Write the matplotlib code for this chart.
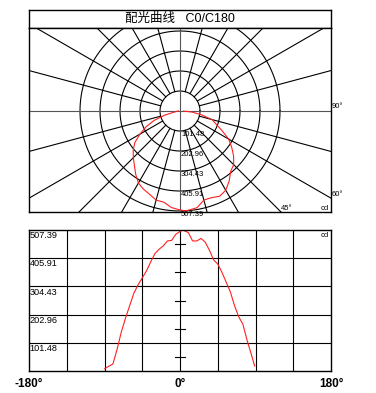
import numpy as np
import matplotlib.pyplot as plt

plt.rcParams['font.family'] = ['Liberation Sans', 'Noto Sans CJK SC', 'DejaVu Sans']

# Intensity distribution (C0/C180 plane)
angles = [-90, -85, -80, -75, -70, -65, -60, -55, -50, -45, -40, -35, -30, -25, -20,
          -15, -10, -5, 0, 3, 5, 10, 15, 20, 25, 30, 35, 40, 45, 50, 55, 60, 65, 70,
          75, 80, 85, 89]
values = [8, 17, 25, 78, 140, 190, 235, 280, 310, 335, 360, 392, 422, 438, 450,
          468, 470, 492, 502, 507, 505, 498, 468, 468, 477, 464, 435, 400, 385, 355,
          320, 285, 235, 195, 168, 110, 60, 18]
ring_values = [101.48, 202.96, 304.43, 405.91, 507.39]
ring_labels = ['101.48', '202.96', '304.43', '405.91', '507.39']
x_labels = ['-180°', '0°', '180°']
title = '配光曲线   C0/C180'

W, H = 376, 393
fig = plt.figure(figsize=(W / 100, H / 100), dpi=100)

def box(x0, y0, x1, y1):
    return [x0 / W, (H - y1) / H, (x1 - x0) / W, (y1 - y0) / H]

# title strip
axt = fig.add_axes(box(29, 10, 331, 28))
axt.set_xticks([])
axt.set_yticks([])
axt.text(0.5, 0.5, title, ha='center', va='center', fontsize=9, transform=axt.transAxes)

# polar-style diagram drawn on cartesian axes (1 px = s cd)
s = ring_values[-1] / 100.0
axp = fig.add_axes(box(29, 28, 331, 212))
axp.set_xlim(-151 * s, 151 * s)
axp.set_ylim(-101 * s, 83 * s)
axp.set_xticks([])
axp.set_yticks([])
t = np.linspace(0, 2 * np.pi, 400)
for r in ring_values:
    axp.plot(r * np.cos(t), r * np.sin(t), color='black', lw=0.8)
for a in range(15, 360, 15):
    if a % 90 == 0:
        continue
    th = np.radians(a)
    axp.plot([ring_values[0] * np.sin(th), 1000 * np.sin(th)],
             [-ring_values[0] * np.cos(th), -1000 * np.cos(th)], color='black', lw=0.8)
axp.axhline(0, color='#555555', lw=0.8)
axp.axvline(0, color='#555555', lw=0.8)
for r, lab in zip(ring_values, ring_labels):
    axp.text(1 * s, -r, lab, ha='left', va='top', fontsize=5.5)
th = np.radians(angles)
v = np.array(values)
axp.plot(v * np.sin(th), -v * np.cos(th), color='#ff2020', lw=0.8)
axp.text(152 * s, 4 * s, '90°', ha='left', va='center', fontsize=5.5, clip_on=False)
axp.text(152 * s, -84 * s, '60°', ha='left', va='center', fontsize=5.5, clip_on=False)
axp.text(101 * s, -97 * s, '45°', ha='left', va='center', fontsize=5.5)
axp.text(149 * s, -97 * s, 'cd', ha='right', va='center', fontsize=5.5)
for sp in list(axp.spines.values()) + list(axt.spines.values()):
    sp.set_linewidth(1.0)

# linear diagram
axl = fig.add_axes(box(29, 230, 331, 371))
axl.set_xlim(-180, 180)
axl.set_ylim(0, ring_values[-1])
axl.set_xticks([])
axl.set_yticks([])
for x in range(-135, 180, 45):
    axl.axvline(x, color='black', lw=0.8)
for r in ring_values[:-1]:
    axl.axhline(r, color='black', lw=0.8)
for r in ring_values:
    axl.plot([-6, 6], [r - ring_values[0] / 2] * 2, color='black', lw=0.8)
for r, lab in zip(ring_values, ring_labels):
    axl.text(-179, r - 4, lab, ha='left', va='top', fontsize=6.6)
axl.text(178, ring_values[-1] - 6, 'cd', ha='right', va='top', fontsize=5.5)
axl.plot(angles, values, color='#ff2020', lw=0.8)
for x, lab in zip([-180, 0, 180], x_labels):
    axl.text(x, -45, lab, ha='center', va='center', fontsize=8.5, fontweight='bold',
             clip_on=False)
for sp in axl.spines.values():
    sp.set_linewidth(1.0)

fig.savefig('out.png', dpi=100)
